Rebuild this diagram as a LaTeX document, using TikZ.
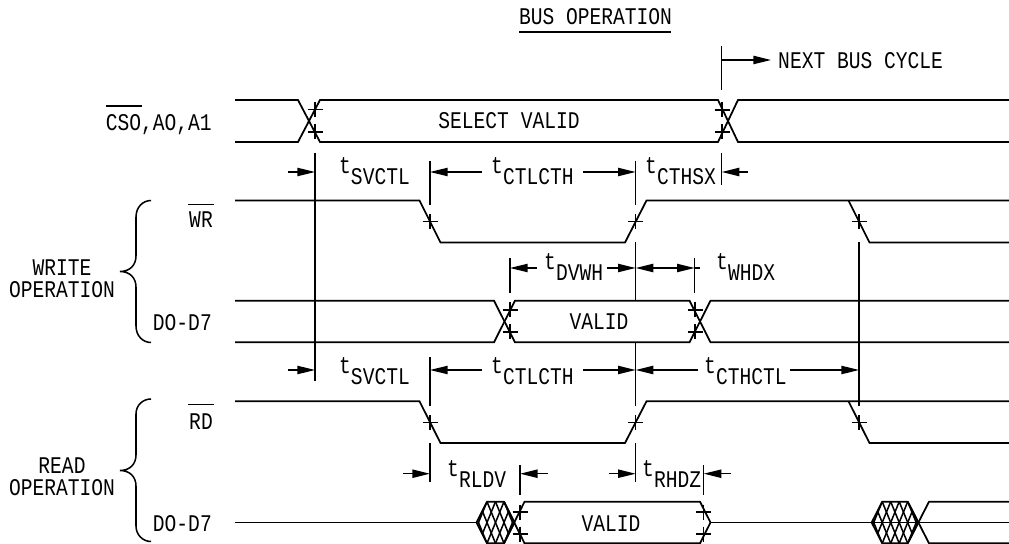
\documentclass[tikz,border=0pt]{standalone}
\usepackage{fontspec}
\setmainfont[FakeStretch=0.82]{Liberation Mono}
\usetikzlibrary{arrows.meta}
\tikzset{
  sig/.style={line width=1.5pt},
  mark line/.style={line width=1.3pt},
  dim/.style={line width=1.3pt,-{Triangle[length=15pt,width=7pt]}},
  lab/.style={inner sep=0pt,font=\fontsize{20.4}{24}\selectfont},
  timing/.style={lab,anchor=base west}
}
% t with its index set lower
\newcommand{\tlab}[1]{t\raisebox{-0.44em}{#1}}
% small cross on an edge
\newcommand{\tick}[2]{\draw[mark line] (#1,#2) +(-7.5,0) -- +(7.5,0) +(0,-7.5) -- +(0,7.5);}
% crossed block: left point, number of cells
\newcommand{\hatchblock}[2]{
  \draw[sig] (#1,522.5) -- (#1+10.5,501.7) -- (#1+10.5+8.5*#2,501.7) -- (#1+21+8.5*#2,522.5)
    -- (#1+10.5+8.5*#2,543.3) -- (#1+10.5,543.3) -- cycle;
  \begin{scope}
    \clip (#1,522.5) -- (#1+10.5,501.7) -- (#1+10.5+8.5*#2,501.7) -- (#1+21+8.5*#2,522.5)
      -- (#1+10.5+8.5*#2,543.3) -- (#1+10.5,543.3) -- cycle;
    \foreach \i in {-2,...,5} {
      \draw[mark line] (#1+10.5+8.5*\i,501.7) -- ++(17,41.6);
      \draw[mark line] (#1+10.5+8.5*\i,501.7) -- ++(-17,41.6);
    }
  \end{scope}
}
\begin{document}
\begin{tikzpicture}[x=0.03cm,y=-0.03cm]
  \useasboundingbox (0,0) rectangle (1009,544);
  % Title
  \node[lab] (title) at (595.5,17) {BUS OPERATION};
  \draw[sig] (519,32) -- (671,32);
  \node[lab,anchor=west] (nextcycle) at (778,61) {NEXT BUS CYCLE};
  \draw[mark line] (721.7,46) -- (721.7,90.5);
  \draw[dim] (721.7,60) -- (771,60);

  % CSO, A0, A1
  \draw[sig] (235,100) -- (298,100) -- (320,142) -- (718,142) -- (738,100) -- (1009,100);
  \draw[sig] (235,142) -- (298,142) -- (320,100) -- (718,100) -- (738,142) -- (1009,142);
  \node[lab] (selectvalid) at (509,121) {SELECT VALID};
  \node[lab,anchor=east] (cslabel) at (212,125) {CSO,AO,A1};
  \draw[mark line] (106,106) -- (142,106);
  \tick{315}{109.5} \tick{315}{132}
  \tick{722}{110} \tick{722}{132}

  % Upper timing row
  \draw[mark line] (315,153) -- (315,381);
  \draw[mark line] (430,161) -- (430,205);
  \draw[mark line] (635.7,161) -- (635.7,205);
  \draw[mark line] (721.7,153) -- (721.7,185);
  \draw[dim] (288,172) -- (315,172);
  \draw[dim] (482,172) -- (430,172);
  \draw[dim] (583,172) -- (635.7,172);
  \draw[dim] (748,172) -- (721.7,172);
  \node[timing] (tsvctlw) at (339,173.5) {\tlab{SVCTL}};
  \node[timing] (tctlcthw) at (491,173.5) {\tlab{CTLCTH}};
  \node[timing] (tcthsx) at (645,173.5) {\tlab{CTHSX}};

  % WR
  \draw[sig] (235,200.5) -- (419.5,200.5) -- (440.5,242.5) -- (625,242.5) -- (646.5,200.5)
    -- (1009,200.5);
  \draw[sig] (848.5,200.5) -- (869.5,242.5) -- (1009,242.5);
  \node[lab,anchor=east] (wrlabel) at (213,220) {WR};
  \draw[mark line] (188,204.3) -- (214,204.3);
  \tick{430}{221.7} \tick{635.5}{221.7} \tick{859}{221.7}

  % DVWH and WHDX
  \draw[mark line] (635.7,241.7) -- (635.7,300.7);
  \draw[mark line] (859,241.7) -- (859,406);
  \draw[mark line] (510,258) -- (510,293);
  \draw[mark line] (694.7,258) -- (694.7,293);
  \draw[dim] (537,268) -- (510,268);
  \draw[dim] (607,268) -- (635.7,268);
  \draw[dim] (665,268) -- (635.7,268);
  \draw[dim] (665,268) -- (694.7,268);
  \draw[mark line] (694.7,268) -- (700,268);
  \node[timing] (tdvwh) at (544,270) {\tlab{DVWH}};
  \node[timing] (twhdx) at (716,270) {\tlab{WHDX}};

  % D0-D7, write
  \draw[sig] (235,300.7) -- (494,300.7) -- (515,342.3) -- (689.5,342.3) -- (710.5,300.7) -- (1009,300.7);
  \draw[sig] (235,342.3) -- (494,342.3) -- (515,300.7) -- (689.5,300.7) -- (710.5,342.3) -- (1009,342.3);
  \node[lab] (validw) at (599,322) {VALID};
  \node[lab,anchor=east] (dwlabel) at (212,323) {DO-D7};
  \tick{510}{310} \tick{510}{332}
  \tick{695}{310} \tick{695}{332}

  % Lower timing row
  \draw[mark line] (430,357) -- (430,406);
  \draw[mark line] (635.7,343) -- (635.7,406);
  \draw[dim] (288,370) -- (315,370);
  \draw[dim] (482,370) -- (430,370);
  \draw[dim] (583,370) -- (635.7,370);
  \draw[dim] (698,370) -- (635.7,370);
  \draw[dim] (790,370) -- (859,370);
  \node[timing] (tsvctlr) at (339,373.5) {\tlab{SVCTL}};
  \node[timing] (tctlcthr) at (491,373.5) {\tlab{CTLCTH}};
  \node[timing] (tcthctl) at (704,373.5) {\tlab{CTHCTL}};

  % RD
  \draw[sig] (235,401.3) -- (419.5,401.3) -- (440.5,443) -- (625,443) -- (646.5,401.3) -- (1009,401.3);
  \draw[sig] (848.5,401.3) -- (869.5,443) -- (1009,443);
  \node[lab,anchor=east] (rdlabel) at (213,421.7) {RD};
  \draw[mark line] (188,404.7) -- (214,404.7);
  \tick{430}{422.7} \tick{635.5}{422.7} \tick{859}{422.7}

  % RLDV and RHDZ
  \draw[mark line] (430,443) -- (430,481.7);
  \draw[mark line] (635.7,443) -- (635.7,481.7);
  \draw[mark line] (520,465) -- (520,495);
  \draw[mark line] (703.7,465) -- (703.7,495);
  \draw[dim] (403,473.7) -- (430,473.7);
  \draw[dim] (548,473.7) -- (520,473.7);
  \draw[dim] (609,473.7) -- (635.7,473.7);
  \draw[dim] (731,473.7) -- (703.7,473.7);
  \node[timing] (trldv) at (447,476.7) {\tlab{RLDV}};
  \node[timing] (trhdz) at (642,476.7) {\tlab{RHDZ}};

  % D0-D7, read
  \draw[sig] (235,522.5) -- (476.5,522.5);
  \hatchblock{476.5}{2}
  \draw[sig] (504,543.3) -- (524.5,501.7) -- (700,501.7) -- (710.5,522.5) -- (700,543.3) -- (524.5,543.3) -- (504,501.7);
  \draw[sig] (710.5,522.5) -- (1009,522.5);
  \hatchblock{871.7}{3}
  \draw[sig] (907.7,501.7) -- (929,543.3) -- (1009,543.3);
  \draw[sig] (907.7,543.3) -- (929,501.7) -- (1009,501.7);
  \node[lab] (validr) at (611,524) {VALID};
  \node[lab,anchor=east] (drlabel) at (212,524) {DO-D7};
  \tick{520}{512} \tick{520}{534}
  \tick{703.7}{512} \tick{703.7}{534}

  % Braces and group names
  \draw[mark line] (151,200.5) .. controls (143,200.5) and (136,207) .. (136,217) -- (136,256)
    .. controls (136,265) and (130,271.5) .. (120,271.5)
    .. controls (130,271.5) and (136,278) .. (136,287) -- (136,326)
    .. controls (136,336) and (143,342.5) .. (151,342.5);
  \draw[mark line] (151,399) .. controls (143,399) and (136,405) .. (136,414) -- (136,455)
    .. controls (136,464) and (130,470.5) .. (120,470.5)
    .. controls (130,470.5) and (136,477) .. (136,486) -- (136,526)
    .. controls (136,535) and (143,541.5) .. (151,541.5);
  \node[lab] (write) at (62,267.5) {WRITE};
  \node[lab] (writeop) at (62,289.5) {OPERATION};
  \node[lab] (read) at (62,466) {READ};
  \node[lab] (readop) at (62,488) {OPERATION};
\end{tikzpicture}
\end{document}
